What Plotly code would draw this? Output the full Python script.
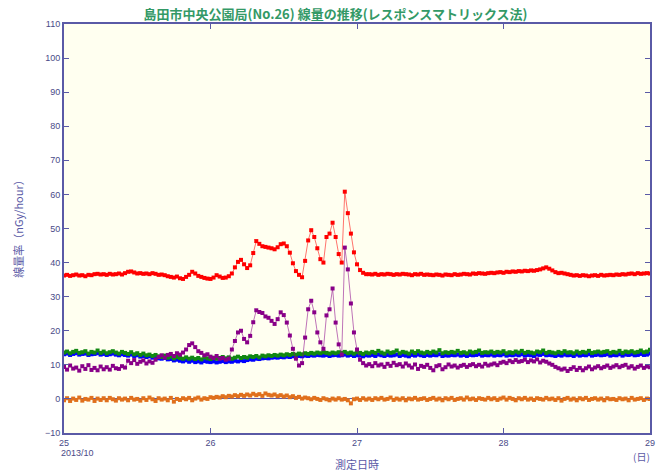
import pandas as pd
import plotly.graph_objects as go

# 30-minute readings, 2013-10-25 00:00 .. 2013-10-29 00:00
times = pd.date_range("2013-10-25 00:00", periods=193, freq="30min")

red = [
    36.2, 36.4, 36.1, 36.3, 36.5, 36.2, 36.3, 36.0, 36.4, 36.3,
    36.6, 36.7, 36.5, 36.6, 36.4, 36.7, 36.5, 36.6, 36.8, 36.5,
    36.9, 37.3, 37.4, 37.1, 36.8, 36.9, 36.7, 36.8, 36.6, 36.9,
    36.7, 36.4, 36.5, 36.3, 36.0, 35.8, 35.6, 35.9, 35.4, 35.2,
    35.8, 36.4, 37.3, 36.8,
    36.1, 35.8, 35.5, 35.3, 35.2, 35.6, 36.3, 35.9, 35.5, 35.6,
    36.0, 36.8, 38.6, 40.2, 40.8, 39.5, 38.4, 39.2, 42.8, 46.3,
    45.5, 44.8, 44.6, 44.4, 44.2, 43.9, 44.5, 45.4, 45.6, 44.8,
    42.9, 39.8, 37.5, 36.4, 35.7, 40.5, 46.5, 49.5, 47.5, 44.2,
    41.0, 40.0, 47.5, 48.5, 51.7, 47.5, 42.5, 40.0, 60.8, 54.5,
    48.5, 43.0, 39.5, 37.8, 37.0, 36.6,
    36.6, 36.5, 36.7, 36.4, 36.6, 36.5, 36.7, 36.6, 36.4, 36.6,
    36.5, 36.7, 36.6, 36.5, 36.3, 36.6, 36.5, 36.7, 36.4, 36.5,
    36.4, 36.3, 36.5, 36.4, 36.2, 36.5, 36.4, 36.3, 36.6, 36.4,
    36.5, 36.7, 36.6, 36.5, 36.8, 36.7, 36.9, 36.8, 36.7, 36.9,
    37.0, 36.9, 37.1, 37.2, 37.0, 37.3, 37.2, 37.4, 37.3, 37.5,
    37.4, 37.6, 37.5, 37.7, 37.6, 37.8, 38.0, 38.3, 38.6, 38.2,
    37.7, 37.2, 36.9, 37.0, 36.8, 36.6, 36.4, 36.2, 36.3, 36.1,
    36.3, 36.2, 36.0, 36.2, 36.3, 36.1, 36.4, 36.2, 36.3, 36.4,
    36.3, 36.5, 36.4, 36.6, 36.5, 36.7, 36.8, 36.6, 36.9, 36.7,
    36.8, 36.9, 36.8,
]

purple = [
    9.4, 8.6, 9.8, 8.9, 9.2, 8.3, 9.6, 8.8, 9.9, 8.5,
    9.1, 8.4, 9.5, 8.7, 9.3, 8.6, 9.7, 9.0, 8.8, 9.6,
    9.2, 11.2, 10.5, 11.4, 10.3, 10.9, 11.3, 10.4, 11.0, 10.6,
    11.5, 12.3, 12.8, 12.1, 12.9, 13.2, 12.6, 13.4, 13.0, 13.6,
    14.5, 15.8, 16.3, 15.2, 14.0, 13.5, 12.8, 13.1, 12.4, 12.0,
    12.6, 11.8,
    12.0, 11.5, 11.8, 14.5, 17.0, 19.5, 20.0, 17.6, 16.6, 18.5,
    22.5, 26.0, 25.5, 25.2, 24.2, 23.8, 22.9, 22.0, 23.4, 25.4,
    24.6, 22.4, 18.6, 14.7, 11.8, 9.8, 10.5, 18.0, 26.3, 28.8,
    25.4, 19.5, 16.6, 14.7, 24.5, 26.3, 32.4, 22.4, 16.0, 13.0,
    44.4, 38.0, 28.0, 19.5, 14.5, 11.5, 10.5, 9.8,
    10.2, 9.6, 10.5, 9.8, 10.1, 9.4, 10.3, 9.7, 10.6, 9.9,
    10.2, 9.5, 10.4, 9.8, 9.2, 10.1, 8.8, 9.7, 9.4, 10.0,
    9.1, 8.4, 9.6, 9.9, 8.7, 9.3, 10.1, 9.5, 9.8, 9.2,
    9.7, 10.0, 9.4, 9.9, 10.2, 9.6, 10.0, 9.5, 10.3, 9.8,
    10.1, 10.4, 9.9, 10.6, 10.9, 10.5, 11.2, 10.8, 11.4, 10.9,
    11.1, 11.5, 10.8, 11.3, 11.0, 11.6, 10.7, 11.2, 10.9, 10.4,
    10.0, 9.4, 9.0, 8.6, 8.9, 8.2, 8.8, 9.3, 8.5, 9.1,
    8.4, 9.0, 9.5, 8.7, 9.2, 9.6, 9.0, 9.4, 9.8, 9.1,
    9.5, 9.9, 9.3, 9.7, 10.0, 9.2, 9.6, 8.9, 9.4, 9.8,
    9.1, 9.5, 9.3,
]

green = [
    13.6, 13.9, 13.4, 13.8, 14.1, 13.5, 13.7, 14.0, 13.3, 13.8,
    13.6, 14.2, 13.5, 13.9, 13.4, 13.7, 14.0, 13.6, 13.3, 13.8,
    13.5, 13.2, 13.7, 13.1, 13.4, 12.9, 13.3, 12.8, 13.0, 12.6,
    12.9, 12.5, 12.3, 12.7, 12.1, 12.4, 11.9, 12.3, 12.0, 11.8,
    12.2, 11.8, 12.1, 11.7, 12.0, 11.6, 12.2, 11.9, 11.7, 12.1,
    11.8, 12.0, 12.3, 11.9, 12.2, 11.8, 12.1, 12.4, 12.0, 12.3,
    12.1, 12.5, 12.3, 12.6, 12.2, 12.7, 12.5, 12.8, 12.6, 12.9,
    12.7, 13.0, 12.8, 13.1, 12.9, 13.2, 13.0, 13.3, 13.1, 13.4,
    13.2, 13.5, 13.3, 13.6, 13.4, 13.7, 13.5, 13.3, 13.6, 13.4,
    13.7, 13.5, 13.8, 13.4, 13.6, 13.3, 13.7, 13.5, 13.2, 13.6,
    13.4, 13.8, 13.5, 14.1, 13.6, 13.3, 13.9, 13.5, 13.7, 14.2,
    13.4, 13.8, 13.6, 13.3, 13.9, 13.5, 14.0, 13.6, 13.4, 13.8,
    13.5, 13.9, 13.6, 14.3, 13.4, 13.7, 13.5, 13.8, 13.6, 14.1,
    13.5, 13.7, 13.4, 13.9, 13.6, 13.8, 14.2, 13.5, 13.7, 13.6,
    13.9, 13.5, 13.8, 13.6, 14.0, 13.4, 13.7, 13.5, 13.9, 13.6,
    14.1, 13.5, 13.8, 13.6, 13.4, 13.9, 13.7, 14.2, 13.5, 13.8,
    13.6, 13.4, 13.8, 13.5, 14.0, 13.6, 13.7, 13.4, 13.9, 13.5,
    13.8, 13.6, 14.1, 13.5, 13.7, 13.9, 13.6, 13.8, 14.0, 13.5,
    13.8, 13.6, 14.1, 13.5, 13.9, 13.7, 14.0, 13.6, 13.8, 14.2,
    13.7, 13.9, 14.4,
]

blue = [
    13.1, 13.3, 12.9, 13.2, 13.4, 13.0, 13.2, 13.3, 12.9, 13.1,
    13.2, 13.4, 13.0, 13.2, 12.9, 13.1, 13.3, 13.0, 12.8, 13.1,
    12.9, 12.7, 13.0, 12.6, 12.8, 12.4, 12.6, 12.3, 12.5, 12.1,
    12.3, 11.9, 11.8, 12.0, 11.6, 11.7, 11.3, 11.5, 11.2, 11.0,
    11.3, 10.9, 11.2, 10.8, 11.0, 10.7, 11.1, 10.9, 10.8, 11.0,
    10.7, 10.9, 11.1, 10.8, 11.0, 10.9, 11.2, 11.0, 11.3, 11.1,
    11.4, 11.6, 11.5, 11.8, 11.7, 11.9, 12.0, 11.9, 12.1, 12.2,
    12.1, 12.3, 12.2, 12.4, 12.3, 12.5, 12.4, 12.6, 12.5, 12.7,
    12.6, 12.8, 12.7, 12.9, 12.8, 12.7, 12.9, 12.6, 12.8, 12.9,
    12.7, 12.8, 13.0, 12.7, 12.9, 12.6, 12.8, 12.7, 12.5, 12.8,
    12.7, 12.9, 12.6, 13.0, 12.8, 12.6, 12.9, 12.7, 12.8, 13.0,
    12.6, 12.9, 12.7, 12.5, 12.9, 12.7, 13.0, 12.8, 12.6, 12.9,
    12.7, 12.9, 12.8, 13.1, 12.6, 12.8, 12.7, 12.9, 12.8, 13.0,
    12.7, 12.9, 12.6, 12.9, 12.8, 12.9, 13.1, 12.7, 12.9, 12.8,
    13.0, 12.7, 12.9, 12.8, 13.1, 12.7, 12.9, 12.8, 13.0, 12.8,
    13.1, 12.7, 12.9, 12.8, 12.6, 13.0, 12.9, 13.2, 12.8, 12.9,
    12.8, 12.6, 12.9, 12.7, 13.0, 12.8, 12.9, 12.6, 13.0, 12.7,
    12.9, 12.8, 13.1, 12.7, 12.9, 13.0, 12.8, 12.9, 13.1, 12.7,
    12.9, 12.8, 13.1, 12.7, 13.0, 12.9, 13.1, 12.8, 12.9, 13.2,
    12.9, 13.0, 13.3,
]

orange = [
    -0.4, 0.2, -0.6, 0.1, -0.3, 0.4, -0.5, 0.0, -0.2, 0.3,
    -0.6, 0.1, -0.3, 0.2, -0.4, 0.3, -0.1, -0.5, 0.2, -0.2,
    0.1, -0.4, 0.3, -0.2, 0.0, -0.5, 0.2, -0.3, 0.4, -0.1,
    -0.6, 0.2, -0.2, 0.1, -0.4, 0.3, -0.8, 0.0, -0.3, 0.2,
    -0.1, 0.3, -0.4, 0.1, 0.4, -0.2, 0.2, 0.0, 0.5, 0.3,
    0.6, 0.4, 0.8, 0.5, 0.9, 0.7, 1.1, 0.8, 1.2, 0.9,
    1.3, 1.0, 1.5, 1.1, 1.4, 0.9, 1.6, 1.2, 1.0, 1.3,
    0.8, 1.1, 0.7, 1.0, 0.5, 0.8, 0.3, 0.6, 0.1, 0.4,
    0.2, -0.1, 0.3, 0.0, -0.3, 0.2, -0.1, -0.4, 0.1, -0.2,
    0.2, -0.2, 0.0, -0.4, -1.3, -0.1, 0.1, -0.3, 0.2, -0.2,
    0.1, -0.3, 0.2, -0.1, 0.3, -0.2, 0.0, 0.4, -0.3, 0.1,
    -0.2, 0.2, -0.4, 0.1, -0.1, 0.3, -0.2, 0.0, 0.2, -0.3,
    0.0, 0.3, -0.2, 0.1, -0.4, 0.2, -0.1, 0.3, -0.3, 0.0,
    0.2, -0.2, 0.4, -0.1, 0.1, -0.3, 0.2, 0.0, -0.2, 0.3,
    -0.1, 0.2, -0.3, 0.1, 0.4, -0.2, 0.3, 0.0, -0.4, 0.2,
    -0.1, 0.3, -0.2, 0.1, -0.3, 0.2, 0.0, -0.2, 0.3, -0.1,
    0.1, -0.3, 0.2, -0.5, 0.0, 0.3, -0.2, 0.1, -0.4, 0.2,
    -0.1, 0.3, -0.3, 0.0, 0.2, -0.2, 0.1, -0.4, 0.2, -0.1,
    0.0, -0.3, 0.2, -0.1, 0.1, -0.4, 0.3, -0.2, 0.0, 0.2,
    -0.3, 0.1, 0.0,
]

tick_days = ["2013-10-25", "2013-10-26", "2013-10-27", "2013-10-28", "2013-10-29"]
tick_text = ["25", "26", "27", "28", "29"]

series = [
    (blue, "#0000ff", "rgba(0,0,255,0.6)"),
    (green, "#118811", "rgba(17,136,17,0.6)"),
    (orange, "#e0701c", "rgba(224,112,28,0.6)"),
    (purple, "#880088", "rgba(136,0,136,0.55)"),
    (red, "#ff0000", "rgba(255,0,0,0.55)"),
]

fig = go.Figure()
for vals, col, lcol in series:
    fig.add_trace(go.Scatter(
        x=times, y=vals, mode="lines+markers",
        line=dict(color=lcol, width=1),
        marker=dict(color=col, size=4, symbol="square"),
        showlegend=False, hoverinfo="skip",
    ))

axis_col = "#5a5aa6"
tick_font = dict(family="Liberation Sans", size=9, color="#4a4a88")

fig.update_layout(
    width=667, height=472,
    margin=dict(l=64, r=12, t=24, b=39),
    paper_bgcolor="white",
    plot_bgcolor="#fffff0",
    title=dict(
        text="<b>島田市中央公園局(No.26) 線量の推移(レスポンスマトリックス法)</b>",
        x=0.503, xanchor="center", y=0.97, yanchor="middle",
        font=dict(family="Noto Sans CJK JP", size=13, color="#339966"),
    ),
    xaxis=dict(
        type="date",
        range=["2013-10-25", "2013-10-29"],
        tickvals=tick_days, ticktext=tick_text,
        ticks="inside", ticklen=5, tickcolor=axis_col, tickwidth=1,
        showline=True, linecolor=axis_col, linewidth=2, mirror="ticks",
        showgrid=False, zeroline=False,
        tickfont=tick_font,
    ),
    yaxis=dict(
        range=[-10, 110], dtick=10, tick0=0,
        ticks="inside", ticklen=5, tickcolor=axis_col, tickwidth=1,
        showline=True, linecolor=axis_col, linewidth=2, mirror="ticks",
        showgrid=False,
        zeroline=True, zerolinecolor=axis_col, zerolinewidth=1,
        tickfont=tick_font,
    ),
    annotations=[
        dict(text="線量率（nGy/hour）", xref="paper", yref="paper",
             x=-0.078, y=0.505, textangle=-90, showarrow=False,
             xanchor="center", yanchor="middle",
             font=dict(family="Noto Sans CJK JP", size=11, color="#5a5aa6")),
        dict(text="測定日時", xref="paper", yref="paper",
             x=0.5, y=-0.076, showarrow=False,
             xanchor="center", yanchor="middle",
             font=dict(family="Noto Sans CJK JP", size=11, color="#5a5aa6")),
        dict(text="2013/10", xref="paper", yref="paper",
             x=-0.008, y=-0.05, showarrow=False,
             xanchor="left", yanchor="middle",
             font=tick_font),
        dict(text="(日)", xref="paper", yref="paper",
             x=0.985, y=-0.058, showarrow=False,
             xanchor="center", yanchor="middle",
             font=dict(family="Noto Sans CJK JP", size=10, color="#5a5aa6")),
    ],
)

fig.write_html("out.html", config={"displayModeBar": False},
               post_script="document.body.style.margin='0';")
